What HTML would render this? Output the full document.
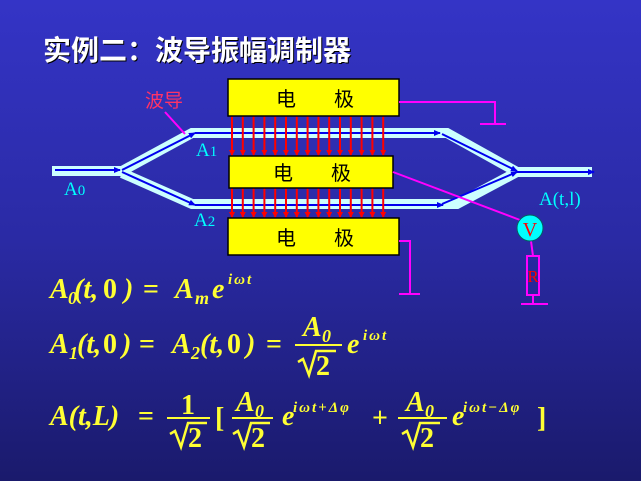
<!DOCTYPE html>
<html><head><meta charset="utf-8"><style>
html,body{margin:0;padding:0;width:641px;height:481px;overflow:hidden}
svg{display:block}
.f{font-family:"Liberation Serif",serif;font-style:italic;font-weight:bold;fill:#ffff33}
.n{font-family:"Liberation Serif",serif;font-weight:bold;fill:#ffff33}
.s{font-family:"Liberation Serif",serif;font-style:italic;font-weight:bold;fill:#ffff33;font-size:18px}
.p{font-family:"Liberation Serif",serif;font-style:italic;font-weight:bold;fill:#ffff33;font-size:15px;letter-spacing:2px}
</style></head><body>
<svg width="641" height="481" viewBox="0 0 641 481" xmlns="http://www.w3.org/2000/svg">
<defs>
<linearGradient id="bg" x1="0" y1="0" x2="0" y2="1">
<stop offset="0" stop-color="#3434c6"/><stop offset="0.5" stop-color="#2a2aa4"/><stop offset="1" stop-color="#1a1a6c"/>
</linearGradient>
<marker id="ar" markerUnits="userSpaceOnUse" markerWidth="6" markerHeight="6" refX="5" refY="3" orient="auto"><path d="M0,0 L6,3 L0,6z" fill="#ff0000"/></marker>
<marker id="ab" markerUnits="userSpaceOnUse" markerWidth="7" markerHeight="6" refX="6" refY="3" orient="auto"><path d="M0,0 L7,3 L0,6z" fill="#0000ee"/></marker>
</defs>
<rect width="641" height="481" fill="url(#bg)"/>
<text x="43" y="60" font-family="'Noto Sans CJK SC',sans-serif" font-size="28" font-weight="bold" fill="#fff" style="text-shadow:1px 1px 0 #000">实例二：波导振幅调制器</text>

<g stroke="#ccffff" fill="none" stroke-linejoin="miter">
<path d="M52,171 H122 L192,133 H447 L517,172 H592" stroke-width="10"/>
<path d="M122,173 L192,204 H457 L517,172" stroke-width="10"/>
</g>
<g stroke="#0000ee" stroke-width="2" fill="none">
<path d="M55,170 H120" marker-end="url(#ab)"/>
<path d="M122,170 L195,133" marker-end="url(#ab)"/>
<path d="M122,172 L195,205" marker-end="url(#ab)"/>
<path d="M195,133 H440" marker-end="url(#ab)"/>
<path d="M195,205 H443" marker-end="url(#ab)"/>
<path d="M442,134 L517,171" marker-end="url(#ab)"/>
<path d="M442,204 L517,172" marker-end="url(#ab)"/>
<path d="M517,172 H594" marker-end="url(#ab)"/>
</g>

<g stroke="#ff0000" stroke-width="2" marker-start="url(#ar)" marker-end="url(#ar)">
<line x1="232" y1="117" x2="232" y2="155"/><line x1="242.8" y1="117" x2="242.8" y2="155"/><line x1="253.6" y1="117" x2="253.6" y2="155"/><line x1="264.4" y1="117" x2="264.4" y2="155"/><line x1="275.2" y1="117" x2="275.2" y2="155"/><line x1="286" y1="117" x2="286" y2="155"/><line x1="296.8" y1="117" x2="296.8" y2="155"/><line x1="307.6" y1="117" x2="307.6" y2="155"/><line x1="318.4" y1="117" x2="318.4" y2="155"/><line x1="329.2" y1="117" x2="329.2" y2="155"/><line x1="340" y1="117" x2="340" y2="155"/><line x1="350.8" y1="117" x2="350.8" y2="155"/><line x1="361.6" y1="117" x2="361.6" y2="155"/><line x1="372.4" y1="117" x2="372.4" y2="155"/><line x1="383.2" y1="117" x2="383.2" y2="155"/>
<line x1="232" y1="189" x2="232" y2="217"/><line x1="242.8" y1="189" x2="242.8" y2="217"/><line x1="253.6" y1="189" x2="253.6" y2="217"/><line x1="264.4" y1="189" x2="264.4" y2="217"/><line x1="275.2" y1="189" x2="275.2" y2="217"/><line x1="286" y1="189" x2="286" y2="217"/><line x1="296.8" y1="189" x2="296.8" y2="217"/><line x1="307.6" y1="189" x2="307.6" y2="217"/><line x1="318.4" y1="189" x2="318.4" y2="217"/><line x1="329.2" y1="189" x2="329.2" y2="217"/><line x1="340" y1="189" x2="340" y2="217"/><line x1="350.8" y1="189" x2="350.8" y2="217"/><line x1="361.6" y1="189" x2="361.6" y2="217"/><line x1="372.4" y1="189" x2="372.4" y2="217"/><line x1="383.2" y1="189" x2="383.2" y2="217"/>
</g>

<g fill="#ffff00" stroke="#000" stroke-width="1.5">
<rect x="228" y="79" width="171" height="37"/>
<rect x="229" y="156" width="164" height="32"/>
<rect x="228" y="218" width="171" height="37"/>
</g>
<g font-family="'Noto Sans CJK SC',sans-serif" font-size="20" fill="#000">
<text x="276" y="106">电</text><text x="334" y="106">极</text>
<text x="273" y="180">电</text><text x="331" y="180">极</text>
<text x="276" y="245">电</text><text x="334" y="245">极</text>
</g>

<g stroke="#ff00ff" stroke-width="2" fill="none">
<path d="M399,102 H495 V123"/><path d="M480,124 H506"/>
<path d="M399,241 H410 V294"/><path d="M399,294 H420"/>
<path d="M393,172 L520,220"/>
<path d="M531,241 L533,256"/>
<rect x="527" y="256" width="12" height="39"/>
<path d="M533,295 V304"/><path d="M521,304 H548"/>
<path d="M165,112 L185,134"/>
</g>
<circle cx="530" cy="228" r="13" fill="#00ffff" stroke="#006060" stroke-width="1"/>
<text x="530" y="236" text-anchor="middle" font-family="'Liberation Serif',serif" font-size="20" fill="#ff0000">V</text>
<text x="533" y="282" text-anchor="middle" font-family="'Liberation Serif',serif" font-size="17" fill="#ff0000">R</text>
<text x="145" y="107" font-family="'Noto Sans CJK SC',sans-serif" font-size="19" fill="#ff3366">波导</text>

<g font-family="'Liberation Serif',serif" font-size="19" fill="#00ffff">
<text x="64" y="195">A<tspan font-size="15">0</tspan></text>
<text x="196" y="156">A<tspan font-size="15">1</tspan></text>
<text x="194" y="226">A<tspan font-size="15">2</tspan></text>
<text x="539" y="205">A(t,l)</text>
</g>

<g font-size="28">
<text class="f" x="50" y="298">A</text><text class="s" x="68" y="304">0</text>
<text class="f" x="74" y="298">(t,</text><text class="n" x="103" y="298">0</text><text class="f" x="124" y="298">)</text>
<text class="n" x="143" y="298">=</text>
<text class="f" x="175" y="298">A</text><text class="s" x="195" y="304">m</text>
<text class="f" x="212" y="298">e</text><text class="p" x="228" y="284">iωt</text>

<text class="f" x="50" y="353">A</text><text class="s" x="69" y="359">1</text>
<text class="f" x="77" y="353">(t,</text><text class="n" x="103" y="353">0</text><text class="f" x="122" y="353">)</text>
<text class="n" x="139" y="353">=</text>
<text class="f" x="172" y="353">A</text><text class="s" x="191" y="359">2</text>
<text class="f" x="200" y="353">(t,</text><text class="n" x="227" y="353">0</text><text class="f" x="246" y="353">)</text>
<text class="n" x="266" y="353">=</text>
<text class="f" x="303" y="336">A</text><text class="s" x="322" y="342">0</text>
<line x1="295" y1="345" x2="342" y2="345" stroke="#ffff33" stroke-width="2"/>
<path d="M298,362 L303,359 L309,375 L316,351 H336" stroke="#ffff33" stroke-width="2.5" fill="none"/>
<text class="n" x="316" y="375">2</text>
<text class="f" x="347" y="353">e</text><text class="p" x="363" y="340">iωt</text>

<text class="f" x="50" y="425">A(t,L)</text>
<text class="n" x="138" y="425">=</text>
<text class="n" x="181" y="414">1</text>
<line x1="167" y1="418" x2="210" y2="418" stroke="#ffff33" stroke-width="2"/>
<path d="M170,434 L175,431 L181,447 L188,423 H207" stroke="#ffff33" stroke-width="2.5" fill="none"/>
<text class="n" x="188" y="447">2</text>
<text class="n" x="215" y="427">[</text>
<text class="f" x="236" y="411">A</text><text class="s" x="255" y="417">0</text>
<line x1="232" y1="418" x2="273" y2="418" stroke="#ffff33" stroke-width="2"/>
<path d="M233,434 L238,431 L244,447 L251,423 H270" stroke="#ffff33" stroke-width="2.5" fill="none"/>
<text class="n" x="251" y="447">2</text>
<text class="f" x="282" y="425">e</text><text class="p" x="293" y="412">iωt+Δφ</text>
<text class="n" x="372" y="427">+</text>
<text class="f" x="406" y="411">A</text><text class="s" x="425" y="417">0</text>
<line x1="398" y1="418" x2="447" y2="418" stroke="#ffff33" stroke-width="2"/>
<path d="M402,434 L407,431 L413,447 L420,423 H440" stroke="#ffff33" stroke-width="2.5" fill="none"/>
<text class="n" x="420" y="447">2</text>
<text class="f" x="452" y="425">e</text><text class="p" x="463" y="412">iωt−Δφ</text>
<text class="n" x="537" y="427">]</text>
</g>
</svg>
</body></html>
